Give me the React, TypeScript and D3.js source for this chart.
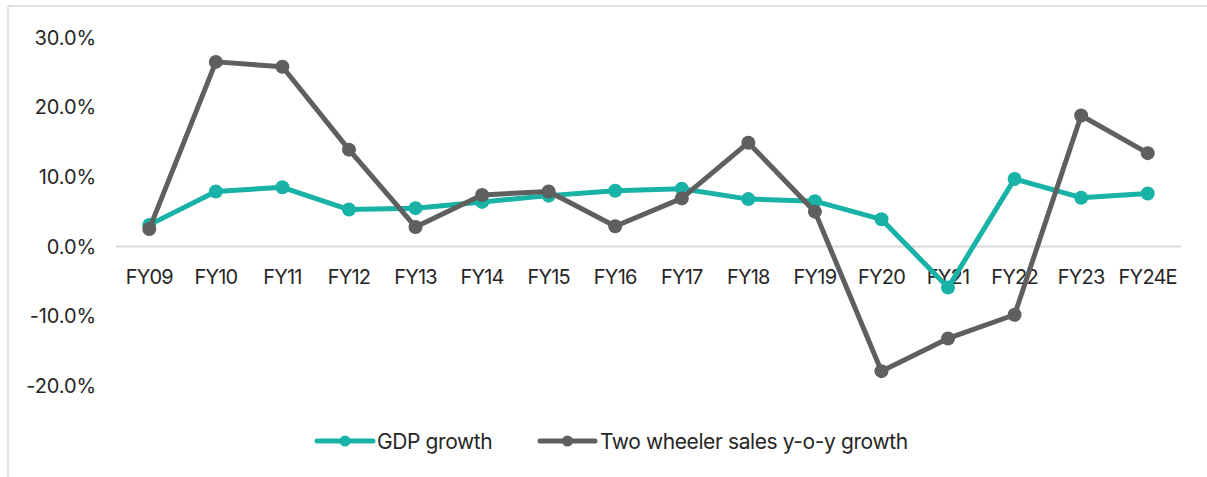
import * as d3 from 'd3'

// FY categories and series (% y-o-y)
const categories = ['FY09', 'FY10', 'FY11', 'FY12', 'FY13', 'FY14', 'FY15', 'FY16', 'FY17', 'FY18', 'FY19', 'FY20', 'FY21', 'FY22', 'FY23', 'FY24E']
const gdpGrowth = [3.1, 7.9, 8.5, 5.3, 5.5, 6.4, 7.3, 8.0, 8.3, 6.8, 6.5, 3.9, -5.9, 9.7, 7.0, 7.6]
const twoWheelerGrowth = [2.5, 26.5, 25.8, 13.9, 2.8, 7.4, 7.9, 2.9, 6.9, 14.9, 5.0, -17.9, -13.2, -9.8, 18.8, 13.4]
const yTicks = [30, 20, 10, 0, -10, -20]

const W = 1207
const H = 477
const FONT = 'Inter, "Liberation Sans", sans-serif'
const TEAL = '#18b2a6'
const GREY = '#5f5f5f'
const TEXT = '#262626'

const series = [
  { name: 'GDP growth', values: gdpGrowth, color: TEAL },
  { name: 'Two wheeler sales y-o-y growth', values: twoWheelerGrowth, color: GREY },
]

export default function App() {
  const x = d3.scaleBand<string>().domain(categories).range([116, 1181])
  const y = d3.scaleLinear().domain([-20, 30]).range([385.8, 37.5])
  const cx = (c: string) => (x(c) ?? 0) + x.bandwidth() / 2

  const line = d3.line<number>()
    .x((_, i) => cx(categories[i]))
    .y(d => y(d))

  // legend geometry
  const legend = [
    { x0: 317, x1: 373, tx: 377 },
    { x0: 540, x1: 595, tx: 600 },
  ]
  const ly = 441

  return (
    <svg width={W} height={H} style={{ position: 'absolute', left: 0, top: 0, background: '#fff' }}>
      {/* frame (right/bottom edges fall outside the picture) */}
      <line x1={8} y1={6} x2={W} y2={6} stroke="#d9d9d9" strokeWidth={1.5} />
      <line x1={8} y1={6} x2={8} y2={H} stroke="#d9d9d9" strokeWidth={1.5} />

      {/* zero line */}
      <line x1={116} x2={1181} y1={y(0)} y2={y(0)} stroke="#d9d9d9" strokeWidth={2} />

      {/* y tick labels */}
      {yTicks.map(t => (
        <text key={t} x={96} y={y(t)} dy="0.36em" textAnchor="end"
          fontFamily={FONT} fontSize={20} letterSpacing={-0.1} fill={TEXT}>
          {`${t.toFixed(1)}%`}
        </text>
      ))}

      {/* x tick labels */}
      {categories.map(c => (
        <text key={c} x={cx(c)} y={277} dy="0.36em" textAnchor="middle"
          fontFamily={FONT} fontSize={20} letterSpacing={-0.8} fill={TEXT}>
          {c}
        </text>
      ))}

      {/* series */}
      {series.map(s => (
        <g key={s.name}>
          <path d={line(s.values) || ''} fill="none" stroke={s.color} strokeWidth={5} strokeLinejoin="round" />
          {s.values.map((v, i) => (
            <circle key={i} cx={cx(categories[i])} cy={y(v)} r={7} fill={s.color} />
          ))}
        </g>
      ))}

      {/* legend */}
      {series.map((s, i) => {
        const l = legend[i]
        return (
          <g key={s.name}>
            <line x1={l.x0} x2={l.x1} y1={ly} y2={ly} stroke={s.color} strokeWidth={5} strokeLinecap="round" />
            <circle cx={(l.x0 + l.x1) / 2} cy={ly} r={5.5} fill={s.color} />
            <text x={l.tx} y={ly} dy="0.36em" fontFamily={FONT} fontSize={21} letterSpacing={-0.4} fill={TEXT}>
              {s.name}
            </text>
          </g>
        )
      })}
    </svg>
  )
}
